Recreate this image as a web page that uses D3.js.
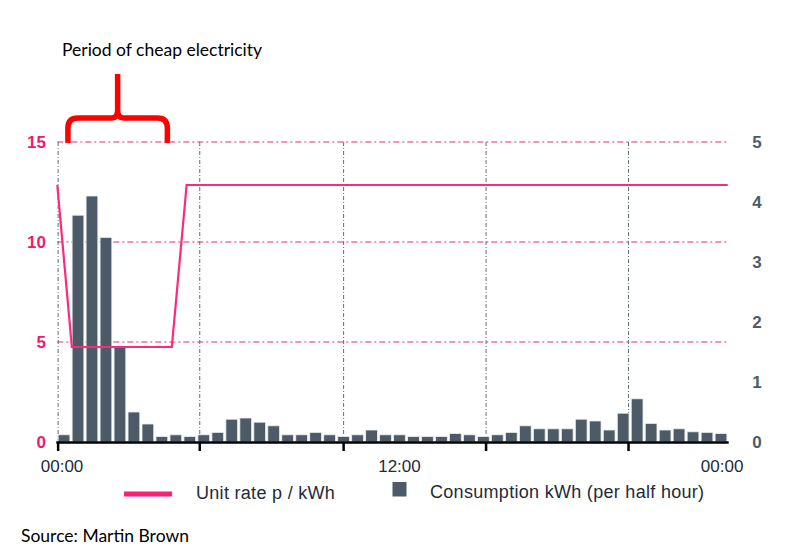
<!DOCTYPE html>
<html lang="en-GB">
<head>
<meta charset="UTF-8">
<title>Unit rate and consumption</title>
<script src="https://d3js.org/d3.v7.min.js"></script>
<style>
  body { margin: 0; background: #fff; }
  .bar { fill: #4d5a67; stroke: #e9edf0; stroke-width: 0.8px; }
  .rate { fill: none; stroke: #fb2a7c; stroke-width: 2.2px; }
  .hgrid { stroke: #e8287a; stroke-width: 1.2px; stroke-dasharray: 6,3,2,3; }
  .vgrid { stroke: #5f6c78; stroke-width: 1px; stroke-dasharray: 4,2,1,2; }
  .ltick { fill: #ee1a72; font: bold 17px "Liberation Sans", Arial, sans-serif; }
  .rtick { fill: #4f5b66; font: bold 17px "Liberation Sans", Arial, sans-serif; }
  .xtick { fill: #1e2b38; font: 17px "Liberation Sans", Arial, sans-serif; }
  .legend { fill: #1e2b38; font: 18px "Liberation Sans", Arial, sans-serif; letter-spacing: 0.3px; }
  .note { fill: #000; font: 17.5px Lato, "Open Sans", sans-serif; }
</style>
</head>
<body>
<script>
// consumption per half hour slot, kWh (right axis)
var consumption = [0.12, 3.78, 4.1, 3.41, 1.59, 0.5, 0.3, 0.09, 0.12, 0.09, 0.12, 0.16,
                   0.38, 0.4, 0.33, 0.27, 0.12, 0.12, 0.16, 0.12, 0.09, 0.12, 0.2, 0.12,
                   0.12, 0.09, 0.09, 0.09, 0.14, 0.12, 0.09, 0.12, 0.16, 0.27, 0.22, 0.22,
                   0.22, 0.38, 0.35, 0.2, 0.48, 0.72, 0.31, 0.2, 0.22, 0.17, 0.16, 0.14];

// unit rate p/kWh (left axis), hours since midnight
var rateHours = [0, 0.52, 4.1, 4.63, 24];
var rateValues = [12.85, 4.75, 4.75, 12.85, 12.85];

var leftTicks = [0, 5, 10, 15];
var rightTicks = [0, 1, 2, 3, 4, 5];
var gridHours = [0.03, 5.1, 10.25, 15.35, 20.45];   // where the source draws its ticks
var labelHours = [0.17, 12.25, 23.8];
var labelText = ["00:00", "12:00", "00:00"];
var braceHours = [0.38, 3.94];

var slots = d3.range(consumption.length);

var width = 812, height = 552;
var plotL = 57.3, plotR = 727.7, plotT = 142, plotB = 442;

var x = d3.scaleLinear().domain([0, 24]).range([plotL, plotR]);
var xb = d3.scaleBand().domain(slots).range([plotL, plotR]).paddingInner(0.16).paddingOuter(0.06);
var yL = d3.scaleLinear().domain([0, 15]).range([plotB, plotT]);
var yR = d3.scaleLinear().domain([0, 5]).range([plotB, plotT]);

var svg = d3.select("body").append("svg")
    .attr("width", width)
    .attr("height", height);

// title + brace
svg.append("text").attr("class", "note")
    .attr("x", 62).attr("y", 55.5)
    .text("Period of cheap electricity");

var bx0 = x(braceHours[0]), bx1 = x(braceHours[1]), bm = (bx0 + bx1) / 2;
var yb = yL(14.95), ya = yL(16.2), yp = yL(18.4);
var r = 10;
var brace = d3.path();
brace.moveTo(bx0, yb);
brace.lineTo(bx0, ya + r);
brace.quadraticCurveTo(bx0, ya, bx0 + r, ya);
brace.lineTo(bm - 6, ya);
brace.quadraticCurveTo(bm, ya, bm, ya - 8);
brace.lineTo(bm, yp);
brace.moveTo(bm, ya - 8);
brace.quadraticCurveTo(bm, ya, bm + 6, ya);
brace.lineTo(bx1 - r, ya);
brace.quadraticCurveTo(bx1, ya, bx1, ya + r);
brace.lineTo(bx1, yb);
svg.append("path")
    .attr("d", brace.toString())
    .attr("fill", "none")
    .attr("stroke", "#ff0000")
    .attr("stroke-width", 5.5);

// horizontal grid (left axis)
svg.selectAll(".hgrid")
    .data(leftTicks.filter(function(d) { return d > 0; }))
    .enter().append("line")
    .attr("class", "hgrid")
    .attr("x1", plotL).attr("x2", plotR + 1)
    .attr("y1", function(d) { return yL(d); })
    .attr("y2", function(d) { return yL(d); });

// vertical grid
svg.selectAll(".vgrid")
    .data(gridHours)
    .enter().append("line")
    .attr("class", "vgrid")
    .attr("x1", function(d) { return x(d); })
    .attr("x2", function(d) { return x(d); })
    .attr("y1", plotT).attr("y2", plotB);

// bars
svg.selectAll(".bar")
    .data(consumption)
    .enter().append("rect")
    .attr("class", "bar")
    .attr("x", function(d, i) { return xb(i); })
    .attr("width", xb.bandwidth())
    .attr("y", function(d) { return yR(d); })
    .attr("height", function(d) { return plotB - yR(d); });

// unit rate line
var line = d3.line()
    .x(function(d) { return x(d[0]); })
    .y(function(d) { return yL(d[1]); });

svg.append("path")
    .datum(d3.zip(rateHours, rateValues))
    .attr("class", "rate")
    .attr("d", line);

// x axis
svg.append("line")
    .attr("x1", plotL - 1).attr("x2", plotR + 1)
    .attr("y1", plotB + 0.5).attr("y2", plotB + 0.5)
    .attr("stroke", "#000").attr("stroke-width", 2.5);

svg.selectAll(".xtickmark")
    .data(gridHours)
    .enter().append("line")
    .attr("class", "xtickmark")
    .attr("x1", function(d) { return x(d); })
    .attr("x2", function(d) { return x(d); })
    .attr("y1", plotB).attr("y2", plotB + 9)
    .attr("stroke", "#000").attr("stroke-width", 2.5);

svg.selectAll(".xtick")
    .data(labelHours)
    .enter().append("text")
    .attr("class", "xtick")
    .attr("x", function(d) { return x(d); })
    .attr("y", 472)
    .attr("text-anchor", "middle")
    .text(function(d, i) { return labelText[i]; });

// left axis labels
svg.selectAll(".ltick")
    .data(leftTicks)
    .enter().append("text")
    .attr("class", "ltick")
    .attr("x", 46)
    .attr("y", function(d) { return yL(d); })
    .attr("dy", "0.36em")
    .attr("text-anchor", "end")
    .text(function(d) { return d; });

// right axis labels
svg.selectAll(".rtick")
    .data(rightTicks)
    .enter().append("text")
    .attr("class", "rtick")
    .attr("x", 757)
    .attr("y", function(d) { return yR(d); })
    .attr("dy", "0.36em")
    .attr("text-anchor", "middle")
    .text(function(d) { return d; });

// legend
svg.append("line")
    .attr("x1", 124).attr("x2", 172)
    .attr("y1", 494).attr("y2", 494)
    .attr("stroke", "#fb1f78").attr("stroke-width", 5);
svg.append("text").attr("class", "legend")
    .attr("x", 196).attr("y", 499)
    .text("Unit rate p / kWh");
svg.append("rect")
    .attr("x", 392.5).attr("y", 482)
    .attr("width", 14).attr("height", 14.5)
    .attr("fill", "#4d5a67");
svg.append("text").attr("class", "legend")
    .attr("x", 430).attr("y", 498)
    .text("Consumption kWh (per half hour)");

// source
svg.append("text").attr("class", "note")
    .attr("x", 21).attr("y", 542)
    .text("Source: Martin Brown");
</script>
</body>
</html>
